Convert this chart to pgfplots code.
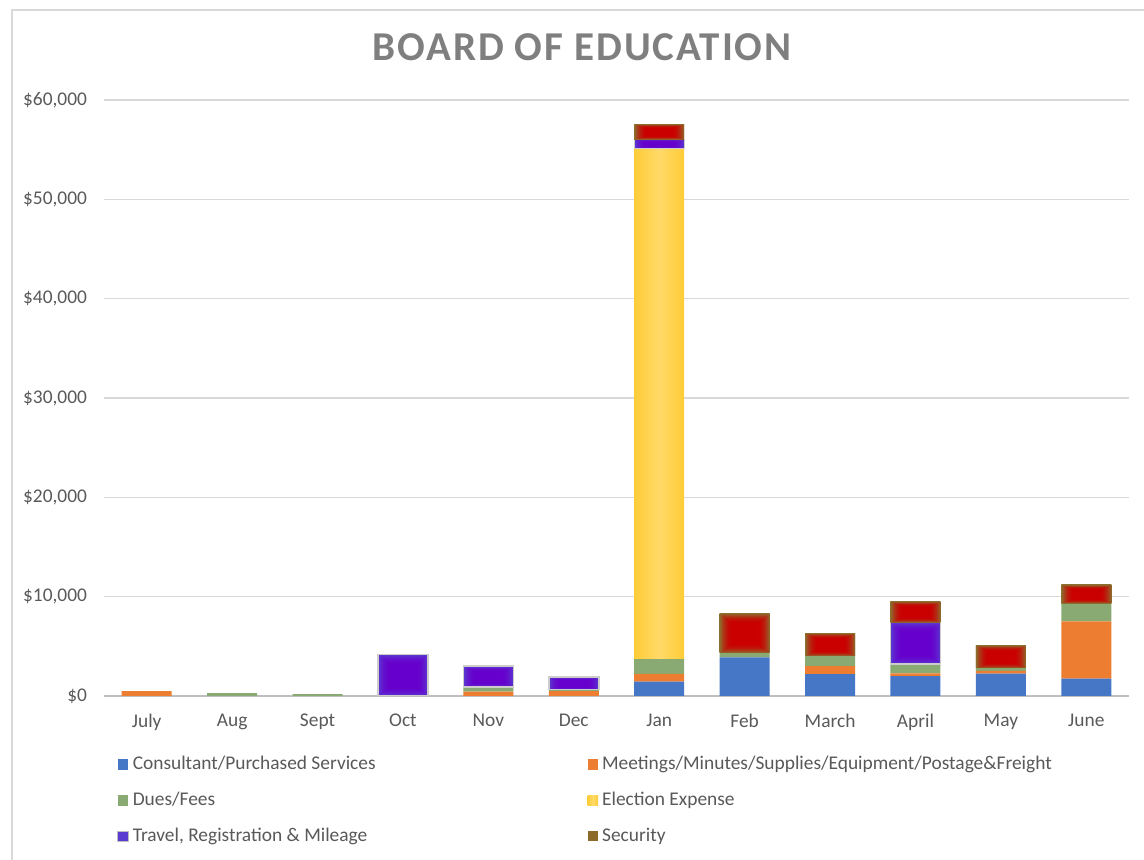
\documentclass[border=0pt]{standalone}
\usepackage{pgfplots}
\pgfplotsset{compat=1.18}
\usepackage{fontspec}
\setmainfont{Carlito}
\newfontfamily\titlefont[LetterSpace=4.6]{Carlito}
\definecolor{cBlue}{HTML}{4676C6}
\definecolor{cOrange}{HTML}{ED7D31}
\definecolor{cGreen}{HTML}{89AA72}
\definecolor{cYellow}{HTML}{FFDA68}
\definecolor{cYellowE}{HTML}{FFCC38}
\definecolor{cPurpleO}{HTML}{5A3CD0}
\definecolor{cSecL}{HTML}{8C6A2A}
\definecolor{cGrid}{HTML}{D9D9D9}
\definecolor{cAxis}{HTML}{BFBFBF}
\definecolor{cText}{HTML}{595959}
\definecolor{cTitle}{HTML}{7F7F7F}
% rectangular soft-edged gradients: centre colour inside, edge colour at the border
\pgfdeclarefunctionalshading{secshade}{\pgfpoint{-50bp}{-50bp}}{\pgfpoint{50bp}{50bp}}{}{
  abs exch abs 2 copy lt {exch} if pop
  25 div 0.5 sub 0.5 div dup 0 lt {pop 0} if dup 1 gt {pop 1} if
  dup mul
  dup dup -0.243 mul 0.792 add 3 1 roll 0.431 mul exch 0.18 mul
}
\pgfdeclarefunctionalshading{travshade}{\pgfpoint{-50bp}{-50bp}}{\pgfpoint{50bp}{50bp}}{}{
  abs exch abs 2 copy lt {exch} if pop
  25 div 0.5 sub 0.5 div dup 0 lt {pop 0} if dup 1 gt {pop 1} if
  dup mul
  dup dup -0.047 mul 0.4 add 3 1 roll 0.235 mul exch 0.016 mul 0.8 add
}
\pgfplotstableread{
x cons meet dues elec trav sec
0 0 500 0 0 0 0
1 0 0 300 0 0 0
2 0 0 200 0 0 0
3 0 0 0 0 4200 0
4 0 430 470 0 2100 0
5 0 500 150 0 1250 0
6 1450 770 1480 51440 910 1530
7 3890 0 440 0 0 3990
8 2210 800 1040 0 0 2290
9 2010 270 940 0 4200 2110
10 2250 270 300 0 0 2280
11 1740 5780 1840 0 0 1840
}\data
\pgfplotsset{
  common/.style={scale only axis, width=512.5pt, height=298pt,
    xmin=-0.5, xmax=11.5, ymin=0, ymax=60000},
}
\begin{document}
\begin{tikzpicture}
\path[use as bounding box] (-52pt,-82pt) rectangle (520pt,348pt);
\draw[cGrid, line width=0.8pt] (-46pt,-82pt) -- (-46pt,343pt) -- (520pt,343pt);
\node[font=\titlefont\bfseries\fontsize{20.5}{24}\selectfont, text=cTitle] at (239pt,324.5pt) {BOARD OF EDUCATION};
\begin{axis}[
  common,
  ybar stacked, bar width=25pt,
  xtick=data,
  xticklabels={July,Aug,Sept,Oct,Nov,Dec,Jan,Feb,March,April,May,June},
  scaled y ticks=false,
  ytick={0,10000,20000,30000,40000,50000,60000},
  yticklabels={{\$0},{\$10,000},{\$20,000},{\$30,000},{\$40,000},{\$50,000},{\$60,000}},
  ymajorgrids, grid style={cGrid, line width=0.6pt},
  axis x line*=bottom, axis y line*=left,
  x axis line style={cAxis, line width=1pt, -},
  y axis line style={draw=none},
  major tick length=0pt,
  tick label style={font=\fontsize{9.7}{12}\selectfont, text=cText},
  xticklabel style={yshift=-5.5pt},
  yticklabel style={xshift=-5pt},
  legend columns=2,
  legend cell align=left,
  legend style={draw=none, at={(0.0068,-0.087)}, anchor=north west,
    font=\fontsize{9.7}{12}\selectfont, text=cText,
    /tikz/every even column/.append style={column sep=104pt},
    row sep=5.7pt},
  legend image code/.code={\path[#1] (0pt,-2.6pt) rectangle (5.2pt,2.6pt);},
]
\addplot[fill=cBlue, draw=none] table[x=x,y=cons]{\data};
\addlegendentry{Consultant/Purchased Services}
\addplot[fill=cOrange, draw=none] table[x=x,y=meet]{\data};
\addlegendentry{Meetings/Minutes/Supplies/Equipment/Postage\&Freight}
\addplot[fill=cGreen, draw=none] table[x=x,y=dues]{\data};
\addlegendentry{Dues/Fees}
\addplot[draw=none, shade, left color=cYellowE, right color=cYellowE, middle color=cYellow] table[x=x,y=elec]{\data};
\addlegendentry{Election Expense}
\addplot[draw=cAxis, line width=0.5pt, fill=cPurpleO] table[x=x,y=trav]{\data};
\addlegendentry{Travel, Registration \& Mileage}
\addplot[draw=none, fill=cSecL] table[x=x,y=sec]{\data};
\addlegendentry{Security}
\end{axis}
\begin{axis}[common, hide axis,
  shaded/.style={draw=none, mark=none, shade, shading=#1},
  tshaded/.style={draw=cAxis!80, line width=0.7pt, mark=none, shade, shading=travshade}]
% travel segments (bar half width 0.2927)
\addplot[tshaded] coordinates {(2.7073,0) (3.2927,0) (3.2927,4200) (2.7073,4200)} -- cycle;
\addplot[tshaded] coordinates {(3.7073,900) (4.2927,900) (4.2927,3000) (3.7073,3000)} -- cycle;
\addplot[tshaded] coordinates {(4.7073,650) (5.2927,650) (5.2927,1900) (4.7073,1900)} -- cycle;
\addplot[tshaded] coordinates {(5.7073,55140) (6.2927,55140) (6.2927,56050) (5.7073,56050)} -- cycle;
\addplot[tshaded] coordinates {(8.7073,3220) (9.2927,3220) (9.2927,7420) (8.7073,7420)} -- cycle;
% security segments
\addplot[shaded=secshade] coordinates {(5.7073,56050) (6.2927,56050) (6.2927,57580) (5.7073,57580)} -- cycle;
\addplot[shaded=secshade] coordinates {(6.7073,4330) (7.2927,4330) (7.2927,8320) (6.7073,8320)} -- cycle;
\addplot[shaded=secshade] coordinates {(7.7073,4050) (8.2927,4050) (8.2927,6340) (7.7073,6340)} -- cycle;
\addplot[shaded=secshade] coordinates {(8.7073,7420) (9.2927,7420) (9.2927,9530) (8.7073,9530)} -- cycle;
\addplot[shaded=secshade] coordinates {(9.7073,2820) (10.2927,2820) (10.2927,5100) (9.7073,5100)} -- cycle;
\addplot[shaded=secshade] coordinates {(10.7073,9360) (11.2927,9360) (11.2927,11200) (10.7073,11200)} -- cycle;
\end{axis}
\end{tikzpicture}
\end{document}
